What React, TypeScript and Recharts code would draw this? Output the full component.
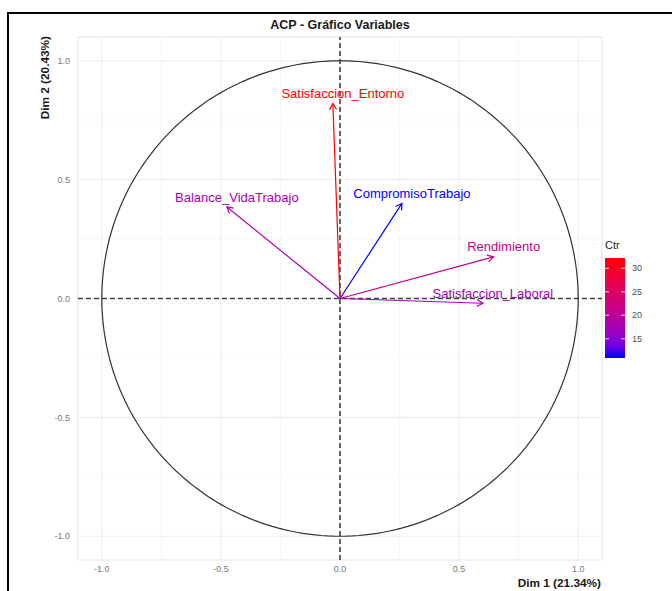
import {
  ComposedChart,
  XAxis,
  YAxis,
  Line,
  Scatter,
  ReferenceLine,
  ReferenceArea,
  Customized,
} from "recharts";

// PCA variables (coordinates on Dim 1 / Dim 2) and their contribution
const variables = [
  "Satisfaccion_Entorno",
  "CompromisoTrabajo",
  "Balance_VidaTrabajo",
  "Rendimiento",
  "Satisfaccion_Laboral",
];
const dim1 = [-0.03, 0.26, -0.475, 0.645, 0.6];
const dim2 = [0.82, 0.4, 0.385, 0.175, -0.02];
const ctr = [32.2, 10.9, 18.0, 21.3, 17.3];

const axisTicks = [-1, -0.5, 0, 0.5, 1];
const minorTicks = [-0.75, -0.25, 0.25, 0.75];
const legendTicks = [15, 20, 25, 30];

const FONT = "'Liberation Sans', Arial, sans-serif";

// blue -> red (Lab-like) gradient stops
const GRADIENT: [number, string][] = [
  [0, "#0000FF"],
  [0.125, "#7300E0"],
  [0.25, "#9A00C3"],
  [0.5, "#C90089"],
  [0.75, "#E8004F"],
  [1, "#FF0000"],
];

const ctrMin = Math.min(...ctr);
const ctrMax = Math.max(...ctr);

const hexToRgb = (h: string) => [
  parseInt(h.slice(1, 3), 16),
  parseInt(h.slice(3, 5), 16),
  parseInt(h.slice(5, 7), 16),
];

function ctrColor(v: number) {
  const t = Math.max(0, Math.min(1, (v - ctrMin) / (ctrMax - ctrMin)));
  for (let i = 0; i < GRADIENT.length - 1; i++) {
    const [t0, c0] = GRADIENT[i];
    const [t1, c1] = GRADIENT[i + 1];
    if (t <= t1) {
      const f = (t - t0) / (t1 - t0);
      const a = hexToRgb(c0);
      const b = hexToRgb(c1);
      const rgb = a.map((x, k) => Math.round(x + (b[k] - x) * f));
      return `rgb(${rgb.join(",")})`;
    }
  }
  return GRADIENT[GRADIENT.length - 1][1];
}

const varPoints = variables.map((name, i) => ({
  name,
  x: dim1[i],
  y: dim2[i],
  color: ctrColor(ctr[i]),
}));

// correlation circle of radius 1
const circle = Array.from({ length: 241 }, (_, i) => {
  const a = (i / 240) * 2 * Math.PI;
  return { x: Math.cos(a), y: Math.sin(a) };
});

const arrowShape = (color: string) => (p: any) => {
  const { x1, y1, x2, y2 } = p;
  const ang = Math.atan2(y2 - y1, x2 - x1);
  const len = 7;
  const spread = Math.PI / 6;
  const ax = x2 - len * Math.cos(ang - spread);
  const ay = y2 - len * Math.sin(ang - spread);
  const bx = x2 - len * Math.cos(ang + spread);
  const by = y2 - len * Math.sin(ang + spread);
  return (
    <g>
      <line x1={x1} y1={y1} x2={x2} y2={y2} stroke={color} strokeWidth={1.2} />
      <polyline
        points={`${ax},${ay} ${x2},${y2} ${bx},${by}`}
        fill="none"
        stroke={color}
        strokeWidth={1.2}
      />
    </g>
  );
};

const renderLabel = (p: any) => {
  const { cx, cy, payload } = p;
  return (
    <text
      x={cx + 10}
      y={cy - 10}
      dy="0.35em"
      textAnchor="middle"
      fontFamily={FONT}
      fontSize={13}
      fill={payload.color}
    >
      {payload.name}
    </text>
  );
};

const Title = () => (
  <text
    x={340}
    y={28.5}
    textAnchor="middle"
    fontFamily={FONT}
    fontSize={12.5}
    fontWeight="bold"
    fill="#1a1a1a"
  >
    ACP - Gráfico Variables
  </text>
);

const YTitle = () => (
  <text
    x={45}
    y={36}
    dy="0.35em"
    transform="rotate(-90, 45, 36)"
    textAnchor="end"
    fontFamily={FONT}
    fontSize={11.8}
    fontWeight="bold"
    fill="#1a1a1a"
  >
    Dim 2 (20.43%)
  </text>
);

const XTitle = () => (
  <text
    x={601}
    y={587}
    textAnchor="end"
    fontFamily={FONT}
    fontSize={11.8}
    fontWeight="bold"
    fill="#1a1a1a"
  >
    Dim 1 (21.34%)
  </text>
);

// colour bar legend
const BAR_X = 605;
const BAR_TOP = 258;
const BAR_H = 100;
const BAR_W = 20;
const barY = (v: number) =>
  BAR_TOP + BAR_H - ((v - ctrMin) / (ctrMax - ctrMin)) * BAR_H;

const ColorBar = () => (
  <g>
    <defs>
      <linearGradient id="ctrGrad" x1="0" y1="1" x2="0" y2="0">
        {GRADIENT.map(([t, c]) => (
          <stop key={t} offset={t} stopColor={c} />
        ))}
      </linearGradient>
    </defs>
    <text x={BAR_X} y={249} fontFamily={FONT} fontSize={11} fill="#1a1a1a">
      Ctr
    </text>
    <rect x={BAR_X} y={BAR_TOP} width={BAR_W} height={BAR_H} fill="url(#ctrGrad)" />
    {legendTicks.map((v) => (
      <g key={v}>
        <line x1={BAR_X} x2={BAR_X + 4} y1={barY(v)} y2={barY(v)} stroke="#fff" strokeWidth={0.8} />
        <line
          x1={BAR_X + BAR_W - 4}
          x2={BAR_X + BAR_W}
          y1={barY(v)}
          y2={barY(v)}
          stroke="#fff"
          strokeWidth={0.8}
        />
        <text
          x={BAR_X + BAR_W + 7}
          y={barY(v)}
          dy="0.35em"
          fontFamily={FONT}
          fontSize={9}
          fill="#4d4d4d"
        >
          {v}
        </text>
      </g>
    ))}
  </g>
);

const tickStyle = { fontSize: 9, fill: "#777", fontFamily: FONT };

export default function App() {
  return (
    <div style={{ position: "absolute", left: 0, top: 0, width: 672, height: 591, background: "#fff" }}>
      <div
        style={{
          position: "absolute",
          left: 7,
          top: 12,
          width: 665,
          height: 579,
          borderLeft: "2px solid #000",
          borderTop: "2px solid #000",
          boxSizing: "border-box",
        }}
      />
      <div style={{ position: "absolute", left: 0, top: 0 }}>
        <ComposedChart width={672} height={591} margin={{ top: 37, right: 70, bottom: 0, left: 0 }}>
          <XAxis
            type="number"
            dataKey="x"
            domain={[-1.1, 1.1]}
            ticks={axisTicks}
            allowDataOverflow
            axisLine={false}
            tickLine={false}
            tickMargin={0}
            height={31}
            tick={tickStyle}
            tickFormatter={(v: number) => v.toFixed(1)}
          />
          <YAxis
            type="number"
            dataKey="y"
            domain={[-1.1, 1.1]}
            ticks={axisTicks}
            allowDataOverflow
            axisLine={false}
            tickLine={false}
            width={78}
            tick={tickStyle}
            tickFormatter={(v: number) => v.toFixed(1)}
          />
          {minorTicks.map((v) => (
            <ReferenceLine key={`mx${v}`} x={v} stroke="#f3f3f3" strokeWidth={0.7} />
          ))}
          {minorTicks.map((v) => (
            <ReferenceLine key={`my${v}`} y={v} stroke="#f3f3f3" strokeWidth={0.7} />
          ))}
          {axisTicks.map((v) => (
            <ReferenceLine key={`gx${v}`} x={v} stroke="#ebebeb" strokeWidth={1} />
          ))}
          {axisTicks.map((v) => (
            <ReferenceLine key={`gy${v}`} y={v} stroke="#ebebeb" strokeWidth={1} />
          ))}
          <ReferenceArea x1={-1.1} x2={1.1} y1={-1.1} y2={1.1} fill="none" stroke="#e3e3e3" strokeWidth={1} />
          <ReferenceLine x={0} stroke="#444" strokeWidth={1.6} strokeDasharray="5 3" />
          <ReferenceLine y={0} stroke="#444" strokeWidth={1.6} strokeDasharray="5 3" />
          <Line
            data={circle}
            dataKey="y"
            type="linear"
            stroke="#333"
            strokeWidth={1.2}
            dot={false}
            activeDot={false}
            isAnimationActive={false}
          />
          {varPoints.map((v) => (
            <ReferenceLine
              key={v.name}
              segment={[
                { x: 0, y: 0 },
                { x: v.x, y: v.y },
              ]}
              shape={arrowShape(v.color)}
            />
          ))}
          <Scatter data={varPoints} shape={renderLabel} isAnimationActive={false} />
          <Customized component={Title} />
          <Customized component={YTitle} />
          <Customized component={XTitle} />
          <Customized component={ColorBar} />
        </ComposedChart>
      </div>
    </div>
  );
}
